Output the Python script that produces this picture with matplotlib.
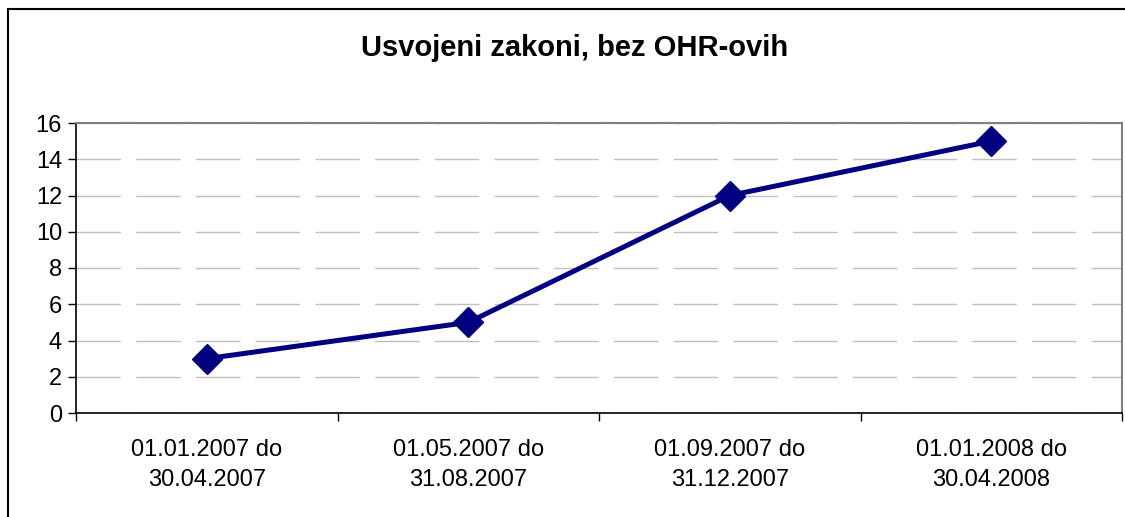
import matplotlib.pyplot as plt
from matplotlib.patches import Rectangle

categories = ["01.01.2007 do\n30.04.2007", "01.05.2007 do\n31.08.2007",
              "01.09.2007 do\n31.12.2007", "01.01.2008 do\n30.04.2008"]
values = [3, 5, 12, 15]
yticks = [0, 2, 4, 6, 8, 10, 12, 14, 16]

plt.rcParams['font.family'] = ['Liberation Sans', 'DejaVu Sans']

fig = plt.figure(figsize=(11.25, 5.17), dpi=100)
ax = fig.add_axes([76/1125, 1-413/517, (1122-76)/1125, (413-123)/517])

x = range(len(values))
ax.plot(x, values, color='#000080', lw=3.6, marker='D', markersize=15, zorder=3)

ax.set_xlim(-0.5, len(values)-0.5)
ax.set_ylim(0, 16)
ax.set_yticks(yticks)
ax.set_xticks(list(x))
ax.set_xticklabels(categories, fontsize=17, linespacing=1.42)
ax.set_xticks([i - 0.5 for i in range(len(values)+1)], minor=True)
ax.tick_params(axis='x', which='major', length=0, pad=19)
ax.tick_params(axis='x', which='minor', length=6, width=1, direction='out')
ax.tick_params(axis='y', labelsize=17, length=6, width=1, direction='out', pad=4)

ax.grid(axis='y', color='#c0c0c0', linestyle=(0, (32, 11)), lw=1)
ax.set_axisbelow(True)
for s in ['top', 'right']:
    ax.spines[s].set_color('#808080')
    ax.spines[s].set_linewidth(1.5)
for s in ['left', 'bottom']:
    ax.spines[s].set_color('black')
    ax.spines[s].set_linewidth(1.2)

fig.text(575/1125, 1-48/517, "Usvojeni zakoni, bez OHR-ovih", ha='center', va='center',
         fontsize=21, fontweight='bold')

fig.patches.append(Rectangle((8/1125, -0.1), 1.2, 1-9/517+0.1, transform=fig.transFigure,
                             fill=False, edgecolor='black', lw=1.5))

fig.savefig("out.png")
